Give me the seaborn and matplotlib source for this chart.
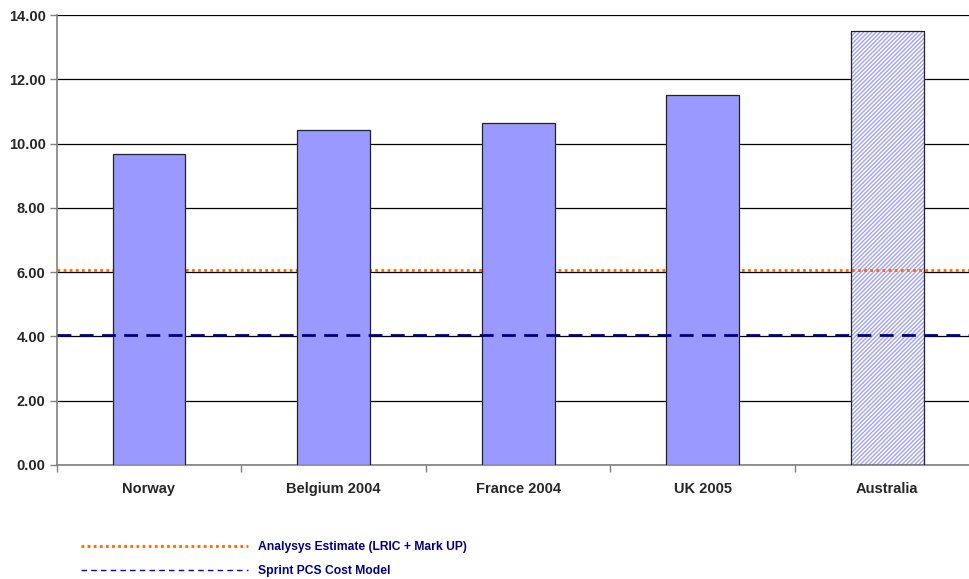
import matplotlib
matplotlib.use("Agg")
import matplotlib.pyplot as plt
from matplotlib.patches import Rectangle
from matplotlib.lines import Line2D
import seaborn as sns
import pandas as pd

categories = ["Norway", "Belgium 2004", "France 2004", "UK 2005", "Australia"]
values = [9.68, 10.42, 10.64, 11.51, 13.50]
analysys_estimate = 6.08
sprint_pcs = 4.04
yticks = [0, 2, 4, 6, 8, 10, 12, 14]
legend_labels = ["Analysys Estimate (LRIC + Mark UP)", "Sprint PCS Cost Model"]

sns.set_theme(style="white")
plt.rcParams["font.family"] = ["Liberation Sans", "DejaVu Sans"]

fig = plt.figure(figsize=(9.69, 5.79), dpi=100)
ax = fig.add_axes([0.0585, 0.197, 0.9525, 0.777])

df = pd.DataFrame({"cat": categories, "val": values})
sns.barplot(data=df, x="cat", y="val", color="#9999FF", saturation=1,
            width=0.395, edgecolor="#222222", linewidth=0.9, ax=ax, zorder=3)

# Australia bar: hatched, orange line shows through
aus = ax.patches[-1]
aus.set_facecolor("white")
aus.set_edgecolor("#A0A0F8")
aus.set_linewidth(0)
aus.set_hatch("////////")
aus.set_zorder(1.5)
ax.add_patch(Rectangle(aus.get_xy(), aus.get_width(), aus.get_height(),
                       fill=False, edgecolor="#222222", linewidth=0.9, zorder=4))

ax.axhline(analysys_estimate, color="#FF6600", linestyle=(0, (1, 1.2)), linewidth=2.0, zorder=2)
ax.axhline(sprint_pcs, color="#000080", linestyle=(0, (5, 3)), linewidth=2.0, zorder=5)

ax.set_ylim(0, 14)
ax.set_xlim(-0.5, len(categories) - 0.5)
ax.set_yticks(yticks)
ax.set_yticklabels([f"{v:.2f}" for v in yticks], fontsize=10.5, fontweight="bold")
ax.set_xticks(range(len(categories)))
ax.set_xticklabels(categories, fontsize=10.5, fontweight="bold")
ax.set_xlabel("")
ax.set_ylabel("")
ax.yaxis.grid(True, color="#000000", linewidth=0.9)
ax.set_axisbelow(True)
ax.tick_params(axis="x", length=0, pad=12)
ax.tick_params(axis="y", length=5, width=1, color="#808080", direction="out", left=True, pad=3)
ax.set_xticks([i + 0.5 for i in range(-1, len(categories))], minor=True)
ax.tick_params(axis="x", which="minor", length=5, width=1, color="#808080", direction="out", bottom=True)

for s in ["top", "right"]:
    ax.spines[s].set_visible(False)
for s in ["left", "bottom"]:
    ax.spines[s].set_color("#808080")
    ax.spines[s].set_linewidth(1.2)

handles = [
    Line2D([], [], color="#FF6600", linestyle=(0, (1, 1.2)), linewidth=2.0),
    Line2D([], [], color="#0000FF", linestyle=(0, (4, 3)), linewidth=1.0),
]
leg = fig.legend(handles, legend_labels, loc="upper left", bbox_to_anchor=(0.084, 0.066),
                 frameon=False, handlelength=13.8, handletextpad=0.8, labelspacing=1.0,
                 prop={"size": 8.7, "weight": "bold"}, borderpad=0, borderaxespad=0)
for t in leg.get_texts():
    t.set_color("#000080")

fig.savefig("out.png", dpi=100, facecolor="white")
